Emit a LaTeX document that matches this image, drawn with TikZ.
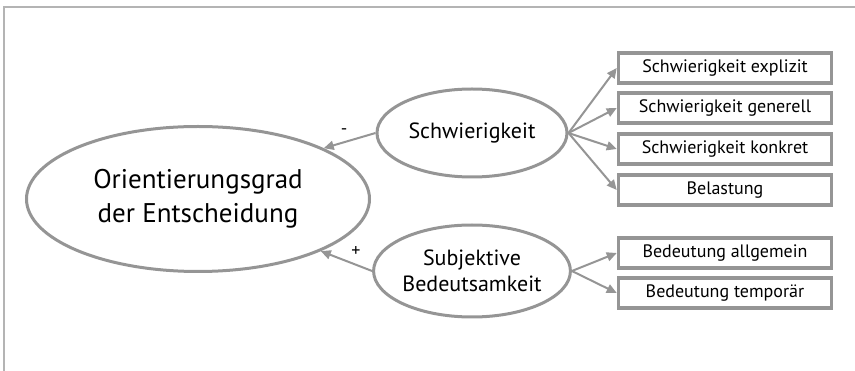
\documentclass[tikz,border=0pt]{standalone}
\usepackage{fontspec}
\setmainfont{PT Sans}
\usetikzlibrary{shapes.geometric,arrows.meta}
\definecolor{linegray}{HTML}{959595}
\definecolor{framegray}{HTML}{B4B4B4}
\tikzset{
  construct/.style={ellipse, draw=linegray, line width=3pt, inner sep=0pt, align=center, text=black},
  indicator/.style={rectangle, draw=linegray, line width=3.5pt, minimum width=213pt, minimum height=30pt, inner sep=0pt, font=\fontsize{18}{20}\selectfont},
  effect/.style={draw=linegray, line width=2pt, -{Triangle[length=10pt,width=9pt]}},
  sign/.style={inner sep=0pt, font=\fontsize{18}{18}\selectfont}
}
\begin{document}
\begin{tikzpicture}[x=1pt,y=-1pt]
\useasboundingbox (0,0) rectangle (855,371);
% outer frame (top and left edges only)
\draw[framegray, line width=1.5pt] (4,371) -- (4,7) -- (855,7);

% latent constructs
\node[construct, minimum width=343pt, minimum height=145pt, font=\fontsize{27}{34}\selectfont] (ori) at (198,199) {Orientierungsgrad\\der Entscheidung};
\node[construct, minimum width=190pt, minimum height=88pt, font=\fontsize{22}{26}\selectfont] (schw) at (472,133) {Schwierigkeit};
\node[construct, minimum width=188pt, minimum height=92pt, font=\fontsize{22}{26}\selectfont] (subj) at (472,271) {Subjektive\\Bedeutsamkeit};

% indicators
\node[indicator] (i1) at (725,68)  {Schwierigkeit explizit};
\node[indicator] (i2) at (725,108) {Schwierigkeit generell};
\node[indicator] (i3) at (725,149) {Schwierigkeit konkret};
\node[indicator] (i4) at (725,190) {Belastung};
\node[indicator] (i5) at (725,253) {Bedeutung allgemein};
\node[indicator] (i6) at (725,293) {Bedeutung temporär};

% structural paths
\draw[effect] (schw.west) -- (ori.22);
\draw[effect] (subj.west) -- (ori.-23);
\node[sign] (minus) at (344,132) {-};
\node[sign] (plus) at (356,252) {+};

% measurement paths
\foreach \i in {i1,i2,i3,i4} \draw[effect] (schw.east) -- (\i.west);
\foreach \i in {i5,i6} \draw[effect] (subj.east) -- (\i.west);
\end{tikzpicture}
\end{document}
